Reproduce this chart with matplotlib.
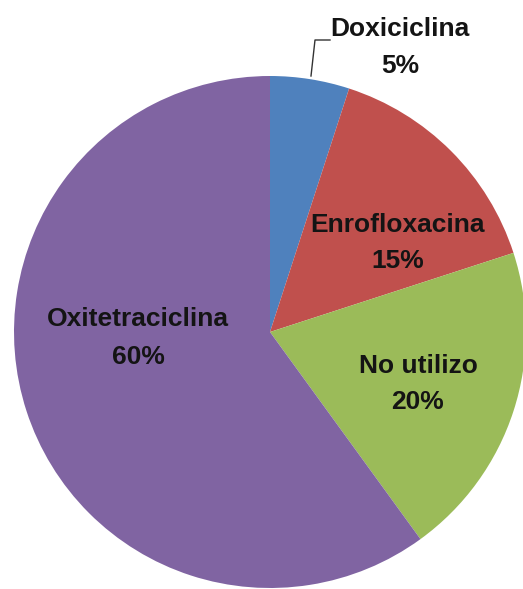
import matplotlib.pyplot as plt

labels = ['Doxiciclina', 'Enrofloxacina', 'No utilizo', 'Oxitetraciclina']
shares = [5, 15, 20, 60]
colors = ['#4F81BD', '#C0504D', '#9BBB59', '#8064A2']

W, H = 523, 589
fig = plt.figure(figsize=(W / 100, H / 100), dpi=100)
ax = fig.add_axes([0, 0, 1, 1])

cx, cy, r = 270, H - 332, 256
ax.pie(shares, colors=colors, startangle=90, counterclock=False,
       center=(cx, cy), radius=r, frame=True,
       wedgeprops=dict(linewidth=0))
ax.set_xlim(0, W)
ax.set_ylim(0, H)
ax.axis('off')

txt = dict(family=['Liberation Sans', 'DejaVu Sans'], fontweight='bold',
           fontsize=19, ha='center', va='center', color='#141414')

# label centres in pixels from the top: (x, name line, percent line)
pos = {
    'Doxiciclina': (400, 29, 66),
    'Enrofloxacina': (398, 225, 261),
    'No utilizo': (418, 366, 402),
    'Oxitetraciclina': (138, 319, 357),
}
for lab, val in zip(labels, shares):
    x, y1, y2 = pos[lab]
    ax.text(x, H - y1, lab, **txt)
    ax.text(x, H - y2, f'{val}%', **txt)

# leader line for the small slice
ax.plot([311, 315, 330], [H - 76, H - 40, H - 40], color='#333333', lw=1)

fig.savefig('out.png', dpi=100)
